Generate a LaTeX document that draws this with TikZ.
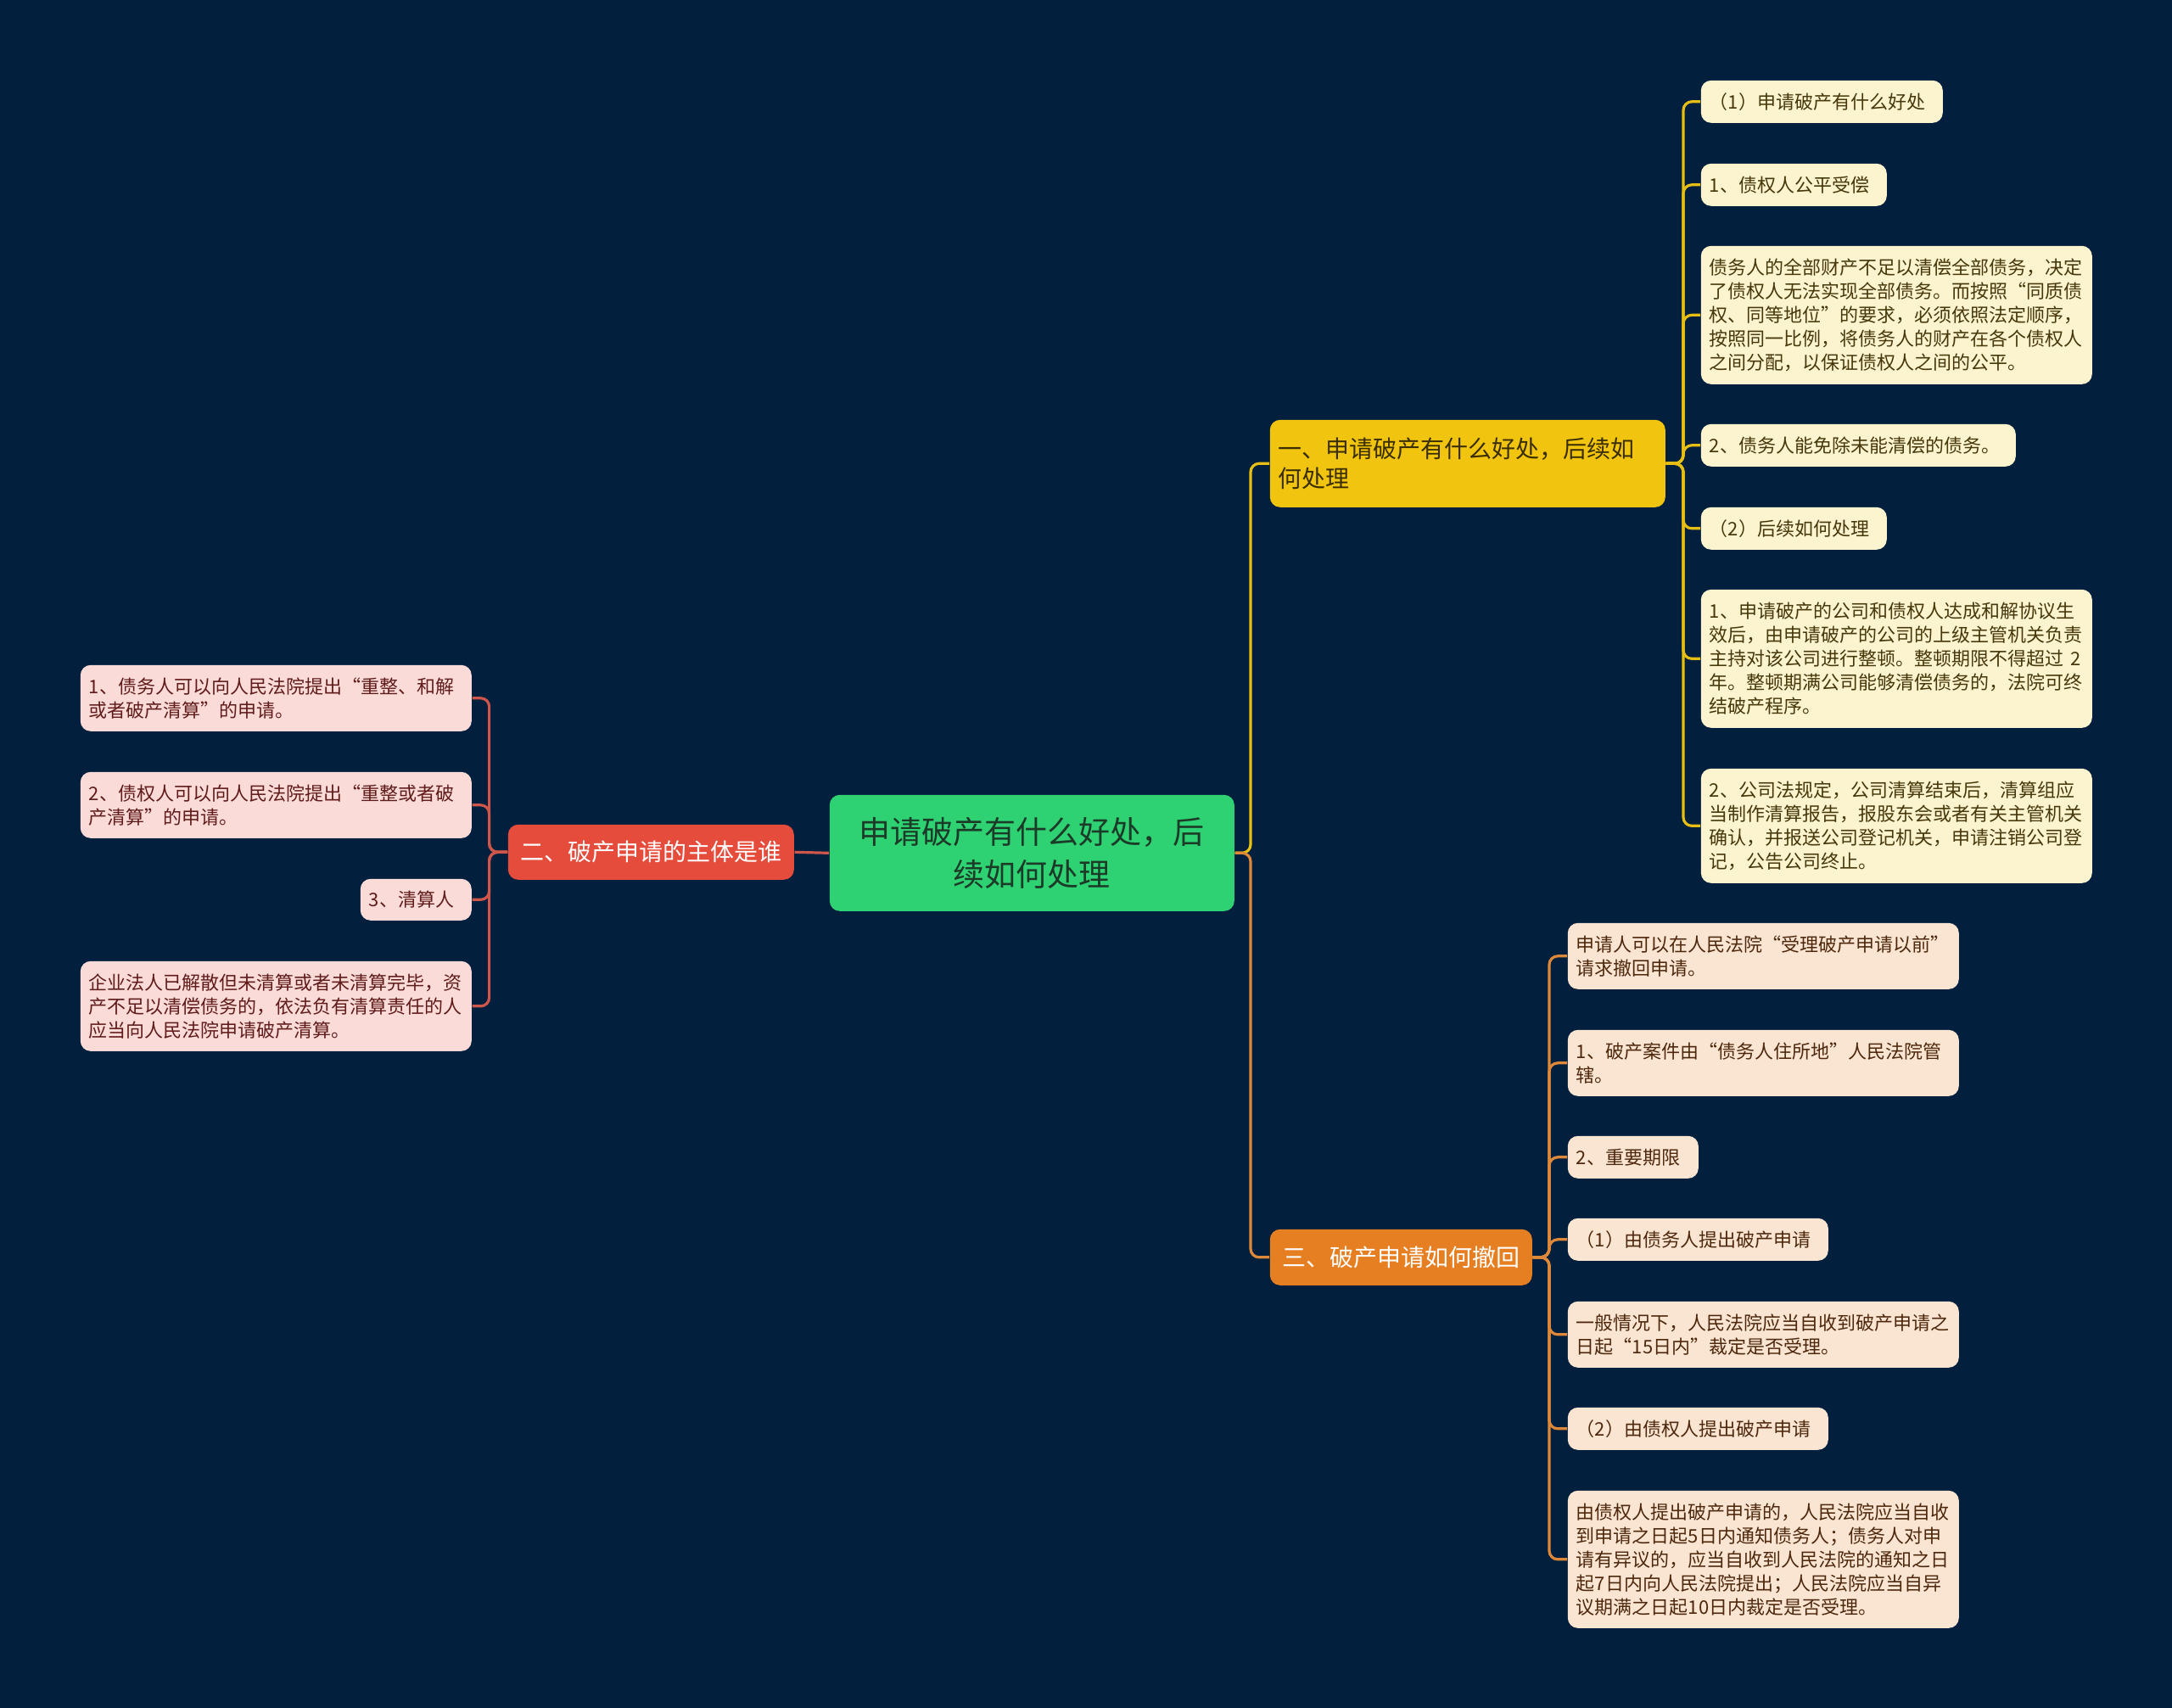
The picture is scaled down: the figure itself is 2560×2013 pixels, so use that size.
\documentclass[tikz,border=0pt]{standalone}
\usepackage{fontspec}
\newfontfamily\cjk{Noto Sans CJK SC}
\usetikzlibrary{calc}
\definecolor{bg}{RGB}{2,31,61}
\definecolor{cfill}{RGB}{46,210,114}
\definecolor{ctext}{RGB}{28,58,40}
\definecolor{rfill}{RGB}{230,76,60}
\definecolor{rline}{RGB}{206,86,74}
\definecolor{rleaf}{RGB}{250,219,216}
\definecolor{rtext}{RGB}{96,28,26}
\definecolor{yfill}{RGB}{241,196,15}
\definecolor{yline}{RGB}{230,190,20}
\definecolor{yleaf}{RGB}{252,243,207}
\definecolor{ytext}{RGB}{70,56,10}
\definecolor{ymtext}{RGB}{58,46,0}
\definecolor{ofill}{RGB}{230,126,34}
\definecolor{oline}{RGB}{222,137,58}
\definecolor{oleaf}{RGB}{250,229,211}
\definecolor{otext}{RGB}{78,40,12}
\tikzset{
  base/.style={rounded corners=3pt, inner xsep=2.5pt, inner ysep=0pt, anchor=north west, align=left},
  small/.style={font=\cjk\fontsize{5.5pt}{7pt}\selectfont},
  mid/.style={font=\cjk\fontsize{7pt}{8.75pt}\selectfont},
  rleafbox/.style={base, small, fill=rleaf, text=rtext},
  yleafbox/.style={base, small, fill=yleaf, text=ytext},
  oleafbox/.style={base, small, fill=oleaf, text=otext},
  rcon/.style={draw=rline, line width=0.8pt, rounded corners=2.5pt},
  ycon/.style={draw=yline, line width=0.8pt, rounded corners=2.5pt},
  ocon/.style={draw=oline, line width=0.8pt, rounded corners=2.5pt},
}
\begin{document}
\begin{tikzpicture}[x=0.25pt, y=-0.25pt]
\fill[bg] (0,0) rectangle (2560,2013);
\useasboundingbox (0,0) rectangle (2560,2013);

% center
\node[base, align=center, fill=cfill, text=ctext, text width=114.25pt, minimum height=34.25pt,
  font=\cjk\fontsize{9.25pt}{12.5pt}\selectfont] (C) at (977,936)
  {申请破产有什么好处，后\\续如何处理};

% main branches
\node[base, align=center, mid, fill=rfill, text=white, text width=79.25pt, minimum height=16.25pt] (R) at (598,971) {二、破产申请的主体是谁};
\node[base, mid, fill=yfill, text=ymtext, text width=111.5pt, minimum height=25.75pt] (Y) at (1496,494) {一、申请破产有什么好处，后续如\\何处理};
\node[base, align=center, mid, fill=ofill, text=white, text width=72.25pt, minimum height=16.5pt] (O) at (1496,1448) {三、破产申请如何撤回};

% left leaves
\node[rleafbox, text width=110.25pt, minimum height=19.5pt] (L1) at (94,783) {1、债务人可以向人民法院提出“重整、和解\\或者破产清算”的申请。};
\node[rleafbox, text width=110.25pt, minimum height=19.5pt] (L2) at (94,909) {2、债权人可以向人民法院提出“重整或者破\\产清算”的申请。};
\node[rleafbox, text width=27.75pt, minimum height=12.25pt] (L3) at (424,1035) {3、清算人};
\node[rleafbox, text width=110.25pt, minimum height=26.5pt] (L4) at (94,1132) {企业法人已解散但未清算或者未清算完毕，资\\产不足以清偿债务的，依法负有清算责任的人\\应当向人民法院申请破产清算。};

% yellow leaves
\node[yleafbox, text width=66.25pt, minimum height=12.5pt] (Y1) at (2004,94) {（1）申请破产有什么好处};
\node[yleafbox, text width=49.75pt, minimum height=12.5pt] (Y2) at (2004,192) {1、债权人公平受偿};
\node[yleafbox, text width=110.25pt, minimum height=40.75pt] (Y3) at (2004,289) {债务人的全部财产不足以清偿全部债务，决定\\了债权人无法实现全部债务。而按照“同质债\\权、同等地位”的要求，必须依照法定顺序，\\按照同一比例，将债务人的财产在各个债权人\\之间分配，以保证债权人之间的公平。};
\node[yleafbox, text width=87.75pt, minimum height=12.5pt] (Y4) at (2004,499) {2、债务人能免除未能清偿的债务。};
\node[yleafbox, text width=49.75pt, minimum height=12.5pt] (Y5) at (2004,597) {（2）后续如何处理};
\node[yleafbox, text width=110.25pt, minimum height=40.75pt] (Y6) at (2004,694) {1、申请破产的公司和债权人达成和解协议生\\效后，由申请破产的公司的上级主管机关负责\\主持对该公司进行整顿。整顿期限不得超过 2\\年。整顿期满公司能够清偿债务的，法院可终\\结破产程序。};
\node[yleafbox, text width=110.25pt, minimum height=33.75pt] (Y7) at (2004,905) {2、公司法规定，公司清算结束后，清算组应\\当制作清算报告，报股东会或者有关主管机关\\确认，并报送公司登记机关，申请注销公司登\\记，公告公司终止。};

% orange leaves
\node[oleafbox, text width=110.25pt, minimum height=19.5pt] (O1) at (1847,1087) {申请人可以在人民法院“受理破产申请以前”\\请求撤回申请。};
\node[oleafbox, text width=110.25pt, minimum height=19.5pt] (O2) at (1847,1213) {1、破产案件由“债务人住所地”人民法院管\\辖。};
\node[oleafbox, text width=33.5pt, minimum height=12.5pt] (O3) at (1847,1338) {2、重要期限};
\node[oleafbox, text width=71.75pt, minimum height=12.5pt] (O4) at (1847,1435) {（1）由债务人提出破产申请};
\node[oleafbox, text width=110.25pt, minimum height=19.5pt] (O5) at (1847,1533) {一般情况下，人民法院应当自收到破产申请之\\日起“15日内”裁定是否受理。};
\node[oleafbox, text width=71.75pt, minimum height=12.5pt] (O6) at (1847,1658) {（2）由债权人提出破产申请};
\node[oleafbox, text width=110.25pt, minimum height=40.5pt] (O7) at (1847,1756) {由债权人提出破产申请的，人民法院应当自收\\到申请之日起5日内通知债务人；债务人对申\\请有异议的，应当自收到人民法院的通知之日\\起7日内向人民法院提出；人民法院应当自异\\议期满之日起10日内裁定是否受理。};

% connectors
\draw[rcon] (C.west) -- (R.east);
\draw[ycon] (C.east) -| ([xshift=-5.5pt]Y.west) -- (Y.west);
\draw[ocon] (C.east) -| ([xshift=-5.5pt]O.west) -- (O.west);

\foreach \n in {L1,L2,L3,L4}
  \draw[rcon] (R.west) -| ([xshift=5pt]\n.east) -- (\n.east);
\foreach \n in {Y1,Y2,Y3,Y4,Y5,Y6,Y7}
  \draw[ycon] (Y.east) -| ([xshift=-5pt]\n.west) -- (\n.west);
\foreach \n in {O1,O2,O3,O4,O5,O6,O7}
  \draw[ocon] (O.east) -| ([xshift=-5.25pt]\n.west) -- (\n.west);
\end{tikzpicture}
\end{document}
